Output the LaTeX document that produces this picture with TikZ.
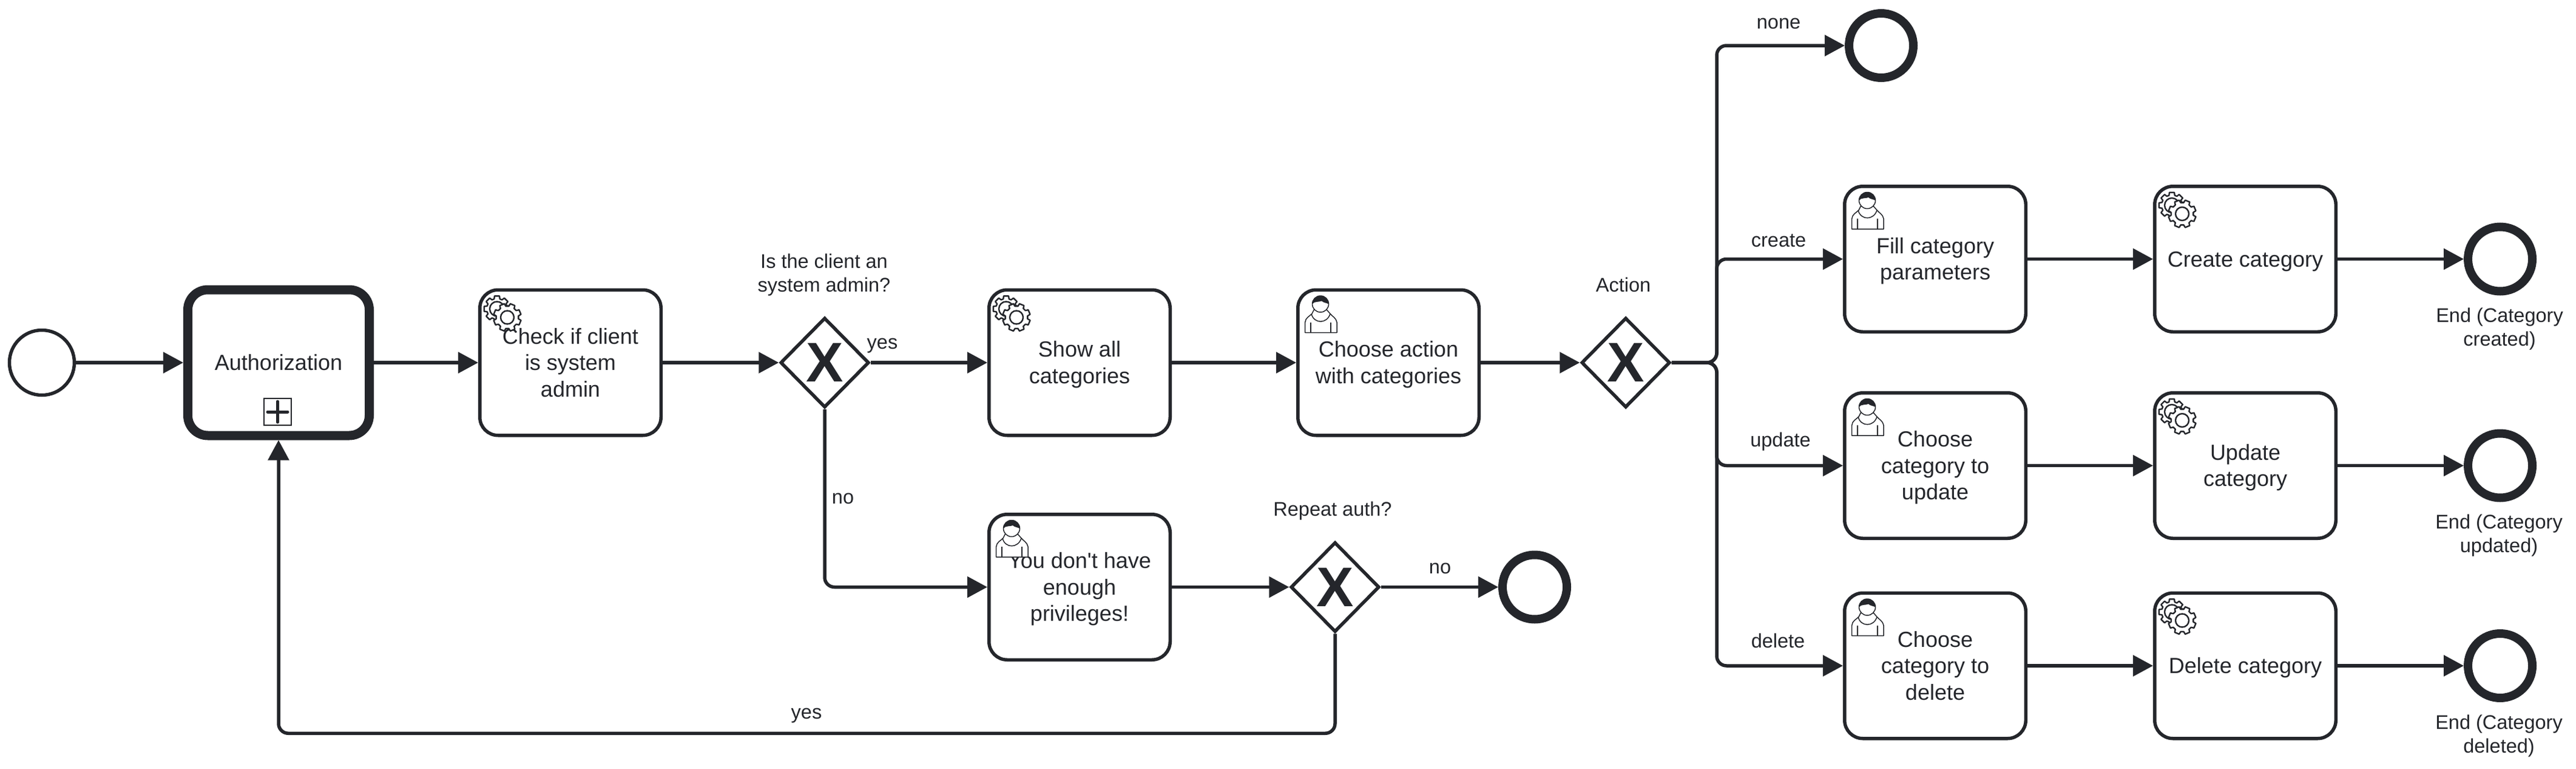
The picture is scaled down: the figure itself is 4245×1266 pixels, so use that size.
\documentclass[tikz,border=0pt]{standalone}
\usepackage{fontspec}
\setmainfont{Liberation Sans}
\usetikzlibrary{arrows.meta,shapes.geometric,calc}
\definecolor{ink}{HTML}{24262B}
\newcommand{\tasktop}{\rule{0pt}{34pt}}
\newcommand{\taskbot}{\rule[-9pt]{0pt}{0pt}}
\newcommand{\labtop}{\rule{0pt}{29pt}}
\newcommand{\labbot}{\rule[-5pt]{0pt}{0pt}}
\tikzset{
  x=1pt,y=-1pt,
  every node/.style={text=ink,inner sep=0pt},
  task/.style={draw=ink,fill=white,line width=5.5pt,rectangle,rounded corners=30pt,minimum width=298.5pt,minimum height=239.5pt,align=center,font=\fontsize{36}{43.5}\selectfont},
  subproc/.style={task,line width=15pt,rounded corners=33pt,minimum width=299pt,minimum height=240pt},
  startev/.style={draw=ink,fill=white,circle,line width=5.5pt,minimum size=107pt},
  endev/.style={draw=ink,fill=white,circle,line width=14pt,minimum size=106pt},
  gate/.style={draw=ink,fill=white,diamond,aspect=1,line width=5.5pt,minimum width=146pt,minimum height=148pt,font=\fontsize{92}{92}\bfseries\selectfont},
  lab/.style={align=center,font=\fontsize{32.5}{39}\selectfont},
  flow/.style={draw=ink,line width=5.5pt,-{Triangle[length=33pt,width=34pt]}},
  branch/.style={flow,rounded corners=16pt},
  pics/gearicon/.style={code={
    \draw[draw=ink,line width=2.4pt,fill=white,line join=round]
      (-14:21.5) \foreach \a in {0,45,...,315}{ -- (\a-11:21.5) -- (\a+11:21.5) -- (\a+16:17) -- (\a+29:17) } -- cycle;
    \draw[draw=ink,line width=2.4pt] (0,0) circle (12pt);
    \begin{scope}[shift={(17,14)}]
    \draw[draw=ink,line width=2.4pt,fill=white,line join=round]
      (12:23) \foreach \a in {22.5,67.5,...,360}{ -- (\a-10:23) -- (\a+10:23) -- (\a+15:18.5) -- (\a+30:18.5) } -- cycle;
    \draw[draw=ink,line width=2.4pt] (0,0) circle (11pt);
    \end{scope}
  }},
  pics/personicon/.style={code={
    \draw[draw=ink,line width=1.5pt,fill=white,line join=round]
      (0.7,59) -- (0.7,42) .. controls (1,35) and (8,32) .. (12,28) -- (16,20) -- (35,20) -- (42,28)
      .. controls (45,32) and (52,35) .. (53,42) -- (53,59) -- cycle;
    \draw[draw=ink,line width=1.5pt] (11,28) .. controls (15,45) and (37,45) .. (42,28);
    \draw[draw=ink,line width=1.5pt] (10,42) -- (10,59) (43,42) -- (43,59);
    \draw[draw=ink,line width=1.5pt,fill=white] (26,12) circle (13.5pt);
    \fill[ink] (12.5,12) arc[start angle=180,end angle=360,x radius=13.5,y radius=13.5]
      .. controls (36,10) and (31,10) .. (28,7) .. controls (24,9) and (16,7) .. (12.5,12) -- cycle;
  }},
}
\newcommand{\gearat}[1]{\pic at ($(#1.north west)+(31,34)$) {gearicon};}
\newcommand{\personat}[1]{\pic at ($(#1.north west)+(14,14)$) {personicon};}
\begin{document}
\begin{tikzpicture}
\useasboundingbox (0,0) rectangle (4245,1266);
\fill[white] (0,0) rectangle (4245,1266);

% events
\node[startev] (start) at (69,597) {};
\node[endev] (endrepeat) at (2529,966.5) {};
\node[endev] (endnone) at (3100,75) {};
\node[endev] (endcreate) at (4120,426.5) {};
\node[endev] (endupdate) at (4120,766.5) {};
\node[endev] (enddelete) at (4120,1096) {};

% tasks
\node[subproc] (auth) at (459,597) {\tasktop Authorization\taskbot};
\node[task] (check) at (940,597) {\tasktop Check if client\\is system\\admin\taskbot};
\node[task] (show) at (1779,597) {\tasktop Show all\\categories\taskbot};
\node[task] (choose) at (2288,597) {\tasktop Choose action\\with categories\taskbot};
\node[task] (denied) at (1779,966.5) {\tasktop You don\textquotesingle t have\\enough\\privileges!\taskbot};
\node[task] (fill) at (3189,426.5) {\tasktop Fill category\\parameters\taskbot};
\node[task] (create) at (3700,426.5) {\tasktop Create category\taskbot};
\node[task] (chupdate) at (3189,766.5) {\tasktop Choose\\category to\\update\taskbot};
\node[task] (update) at (3700,766.5) {\tasktop Update\\category\taskbot};
\node[task] (chdelete) at (3189,1096) {\tasktop Choose\\category to\\delete\taskbot};
\node[task] (delete) at (3700,1096) {\tasktop Delete category\taskbot};

% gateways
\node[gate] (gadmin) at (1359,597) {X};
\node[gate] (gaction) at (2679,597) {X};
\node[gate] (grepeat) at (2200,966.5) {X};

\coordinate (trunk) at (2829,597);

% connectors
\draw[flow] (start) -- (auth);
\draw[flow] (auth) -- (check);
\draw[flow] (check) -- (gadmin);
\draw[flow] (gadmin) -- (show);
\draw[flow] (show) -- (choose);
\draw[flow] (choose) -- (gaction);
\draw[branch] (gadmin.south) |- (denied.west);
\draw[flow] (denied) -- (grepeat);
\draw[flow] (grepeat) -- (endrepeat);
\draw[branch] (grepeat.south) -- ++(0,164) -| (auth.south);
\draw[branch] (gaction.east) -- (trunk) |- (endnone.west);
\draw[branch] (gaction.east) -- (trunk) |- (fill.west);
\draw[branch] (gaction.east) -- (trunk) |- (chupdate.west);
\draw[branch] (gaction.east) -- (trunk) |- (chdelete.west);
\draw[flow] (fill) -- (create);
\draw[flow] (create) -- (endcreate);
\draw[flow] (chupdate) -- (update);
\draw[flow] (update) -- (endupdate);
\draw[flow] (chdelete) -- (delete);
\draw[flow] (delete) -- (enddelete);

% labels
\node[lab] (ladmin) at (1358,450) {\labtop Is the client an\\system admin?\labbot};
\node[lab] (lyes) at (1454,563) {\labtop yes\labbot};
\node[lab] (lno) at (1389,817) {\labtop no\labbot};
\node[lab] (lrepeat) at (2196,838) {\labtop Repeat auth?\labbot};
\node[lab] (lno2) at (2373,932) {\labtop no\labbot};
\node[lab] (lyes2) at (1329,1172) {\labtop yes\labbot};
\node[lab] (laction) at (2675,468) {\labtop Action\labbot};
\node[lab] (lnone) at (2931,35) {\labtop none\labbot};
\node[lab] (lcreate) at (2931,394) {\labtop create\labbot};
\node[lab] (lupdate) at (2934,724) {\labtop update\labbot};
\node[lab] (ldelete) at (2930,1054) {\labtop delete\labbot};
\node[lab] (lendc) at (4119,539) {\labtop End (Category\\created)\labbot};
\node[lab] (lendu) at (4118,879) {\labtop End (Category\\updated)\labbot};
\node[lab] (lendd) at (4118,1209) {\labtop End (Category\\deleted)\labbot};

% collapsed sub-process marker
\draw[draw=ink,line width=2.4pt,fill=white] (435,656) rectangle (480,700);
\draw[draw=ink,line width=5pt,line cap=round] (441,678) -- (474,678) (457.5,661) -- (457.5,695);

% icons
\gearat{check}
\gearat{show}
\gearat{create}
\gearat{update}
\gearat{delete}
\personat{choose}
\personat{denied}
\personat{fill}
\personat{chupdate}
\personat{chdelete}
\end{tikzpicture}
\end{document}
